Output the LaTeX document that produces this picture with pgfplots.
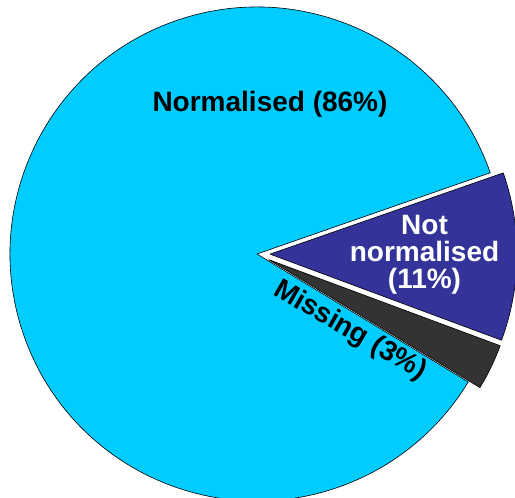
\documentclass[border=0pt]{standalone}
\usepackage{fontspec}
\setmainfont{Liberation Sans}
\usepackage{pgfplots}
\usepackage{pgfplotstable}
\pgfplotsset{compat=1.18}
\definecolor{cyanpie}{HTML}{00CCFF}
\definecolor{purplepie}{HTML}{333399}
\definecolor{darkpie}{HTML}{333333}

\pgfplotstableread{
value explode colour
86 0 cyanpie
3 13 darkpie
11 13 purplepie
}\piedata

\begin{document}
\begin{tikzpicture}
\begin{axis}[x=1pt,y=1pt,xmin=0,xmax=515,ymin=0,ymax=498,hide axis,clip=false]
\pgfplotsextra{
 \pgfplotstablegetrowsof{\piedata}\pgfmathtruncatemacro\nrows{\pgfplotsretval-1}
 \gdef\curangle{19.2}
 \foreach \i in {0,...,\nrows}{
   \pgfplotstablegetelem{\i}{value}\of\piedata \let\val\pgfplotsretval
   \pgfplotstablegetelem{\i}{explode}\of\piedata \let\ex\pgfplotsretval
   \pgfplotstablegetelem{\i}{colour}\of\piedata \let\col\pgfplotsretval
   \pgfmathsetmacro\endangle{\curangle+3.6*\val}
   \pgfmathsetmacro\midangle{(\curangle+\endangle)/2}
   \fill[fill=\col, draw=black, line width=0.6pt, line join=round] (axis cs:257,244) ++(\midangle:\ex pt) -- ++(\curangle:247pt) arc[start angle=\curangle, end angle=\endangle, radius=247pt] -- cycle;
   \global\let\curangle\endangle
 }
}
\node[font=\fontsize{28}{30}\selectfont\bfseries, anchor=base] at (axis cs:270,386) {Normalised (86\%)};
\node[font=\fontsize{28}{27}\selectfont\bfseries, text=white, align=center] at (axis cs:424.5,243) {Not\\normalised\\(11\%)};
\node[font=\fontsize{28}{30}\selectfont\bfseries, rotate=-30] at (axis cs:350,167) {Missing (3\%)};
\end{axis}
\pgfresetboundingbox
\path[use as bounding box] (current axis.south west) rectangle (current axis.north east);
\end{tikzpicture}
\end{document}
